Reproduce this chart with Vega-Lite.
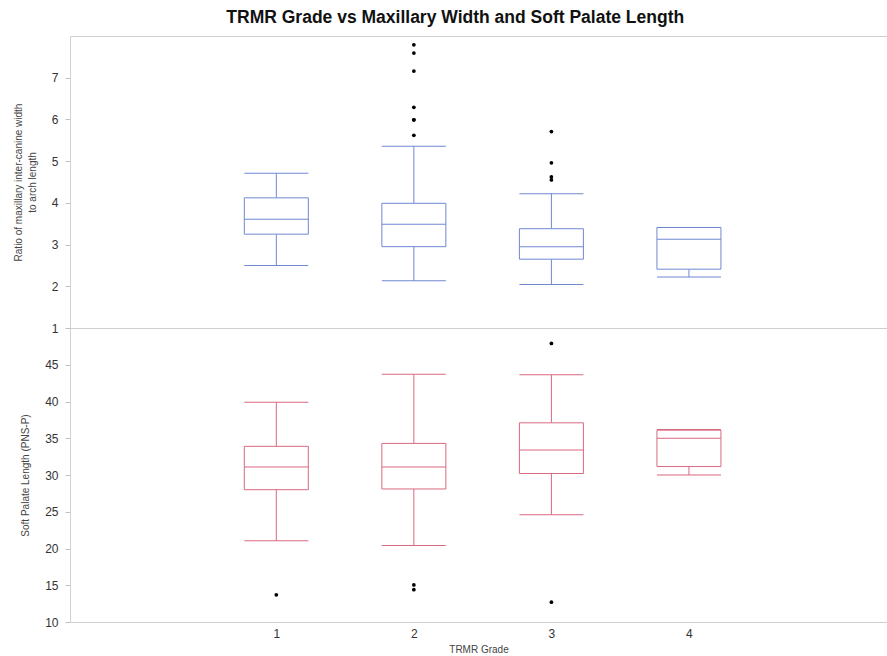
{
  "$schema": "https://vega.github.io/schema/vega-lite/v6.json",
  "padding": {"left": 13, "top": 9, "right": 0, "bottom": 0},
  "title": {"text": "TRMR Grade vs Maxillary Width and Soft Palate Length", "fontSize": 17.5, "font": "Liberation Sans", "fontWeight": "bold", "anchor": "start", "dx": 213, "offset": 9.5, "color": "#111"},
  "spacing": 0,
  "bounds": "flush",
  "config": {
    "view": {"stroke": null},
    "axis": {"domainColor": "#d0d0d0", "tickColor": "#c0c0c0", "labelColor": "#333", "labelFont": "Liberation Sans", "titleFont": "Liberation Sans", "titleFontWeight": "normal", "titleColor": "#444", "grid": false, "labelFontSize": 12, "titleFontSize": 10}
  },
  "datasets": {
    "ratioStats": [
      {"grade": 1, "lower": 2.50, "q1": 3.25, "median": 3.61, "q3": 4.12, "upper": 4.71},
      {"grade": 2, "lower": 2.13, "q1": 2.95, "median": 3.49, "q3": 3.99, "upper": 5.36},
      {"grade": 3, "lower": 2.04, "q1": 2.65, "median": 2.95, "q3": 3.38, "upper": 4.22},
      {"grade": 4, "lower": 2.22, "q1": 2.41, "median": 3.13, "q3": 3.41, "upper": 3.41}
    ],
    "ratioOut": [
      {"grade": 2, "value": 7.79}, {"grade": 2, "value": 7.59}, {"grade": 2, "value": 7.16},
      {"grade": 2, "value": 6.29}, {"grade": 2, "value": 5.99}, {"grade": 2, "value": 5.99},
      {"grade": 2, "value": 5.62},
      {"grade": 3, "value": 5.71}, {"grade": 3, "value": 4.96}, {"grade": 3, "value": 4.62}, {"grade": 3, "value": 4.55}
    ],
    "softStats": [
      {"grade": 1, "lower": 21.05, "q1": 28.0, "median": 31.1, "q3": 33.9, "upper": 39.9},
      {"grade": 2, "lower": 20.4, "q1": 28.1, "median": 31.1, "q3": 34.3, "upper": 43.7},
      {"grade": 3, "lower": 24.6, "q1": 30.2, "median": 33.4, "q3": 37.1, "upper": 43.65},
      {"grade": 4, "lower": 30.0, "q1": 31.15, "median": 35.0, "q3": 36.1, "upper": 36.2}
    ],
    "softOut": [
      {"grade": 1, "value": 13.7},
      {"grade": 2, "value": 14.4}, {"grade": 2, "value": 15.05},
      {"grade": 3, "value": 47.9}, {"grade": 3, "value": 12.7}
    ]
  },
  "vconcat": [
    {
      "width": 817,
      "height": 292,
      "resolve": {"axis": {"x": "independent"}},
      "layer": [
        {
          "data": {"name": "ratioStats"},
          "mark": {"type": "rule", "color": "#7088d2", "strokeWidth": 1},
          "encoding": {
            "x": {"field": "grade", "type": "quantitative", "scale": {"domain": [-0.5, 5.44], "nice": false, "zero": false, "padding": 0}, "axis": {"orient": "top", "domain": true, "ticks": false, "labels": false, "title": null, "minExtent": 0, "maxExtent": 0, "offset": 0}},
            "y": {"field": "lower", "type": "quantitative", "scale": {"domain": [1, 8], "nice": false, "zero": false}, "axis": {"values": [1, 2, 3, 4, 5, 6, 7], "tickSize": 5, "labelPadding": 7, "titlePadding": 14, "title": ["Ratio of maxillary inter-canine width", "to arch length"], "titleLineHeight": 14}},
            "y2": {"field": "q1"}
          }
        },
        {
          "data": {"name": "ratioStats"},
          "mark": {"type": "rule", "color": "#7088d2", "strokeWidth": 1},
          "encoding": {
            "x": {"field": "grade", "type": "quantitative", "axis": {"orient": "bottom", "domain": true, "ticks": false, "labels": false, "title": null, "minExtent": 0, "maxExtent": 0, "offset": 0}},
            "y": {"field": "q3", "type": "quantitative", "title": ["Ratio of maxillary inter-canine width", "to arch length"]},
            "y2": {"field": "upper"}
          }
        },
        {
          "data": {"name": "ratioStats"},
          "mark": {"type": "bar", "size": 64, "fill": "white", "stroke": "#7088d2", "strokeWidth": 1},
          "encoding": {
            "x": {"field": "grade", "type": "quantitative", "axis": null},
            "y": {"field": "q1", "type": "quantitative", "title": ["Ratio of maxillary inter-canine width", "to arch length"]},
            "y2": {"field": "q3"}
          }
        },
        {
          "data": {"name": "ratioStats"},
          "mark": {"type": "tick", "orient": "horizontal", "size": 64, "thickness": 1, "color": "#7088d2", "opacity": 1},
          "encoding": {
            "x": {"field": "grade", "type": "quantitative", "axis": null},
            "y": {"field": "median", "type": "quantitative", "title": ["Ratio of maxillary inter-canine width", "to arch length"]}
          }
        },
        {
          "data": {"name": "ratioStats"},
          "mark": {"type": "tick", "orient": "horizontal", "size": 64, "thickness": 1, "color": "#7088d2", "opacity": 1},
          "encoding": {
            "x": {"field": "grade", "type": "quantitative", "axis": null},
            "y": {"field": "lower", "type": "quantitative", "title": ["Ratio of maxillary inter-canine width", "to arch length"]}
          }
        },
        {
          "data": {"name": "ratioStats"},
          "mark": {"type": "tick", "orient": "horizontal", "size": 64, "thickness": 1, "color": "#7088d2", "opacity": 1},
          "encoding": {
            "x": {"field": "grade", "type": "quantitative", "axis": null},
            "y": {"field": "upper", "type": "quantitative", "title": ["Ratio of maxillary inter-canine width", "to arch length"]}
          }
        },
        {
          "data": {"name": "ratioOut"},
          "mark": {"type": "circle", "size": 14, "color": "#000", "opacity": 1},
          "encoding": {
            "x": {"field": "grade", "type": "quantitative", "axis": null},
            "y": {"field": "value", "type": "quantitative", "title": ["Ratio of maxillary inter-canine width", "to arch length"]}
          }
        }
      ]
    },
    {
      "width": 817,
      "height": 294,
      "layer": [
        {
          "data": {"name": "softStats"},
          "mark": {"type": "rule", "color": "#d9697f", "strokeWidth": 1},
          "encoding": {
            "x": {"field": "grade", "type": "quantitative", "scale": {"domain": [-0.5, 5.44], "nice": false, "zero": false, "padding": 0}, "axis": {"values": [1, 2, 3, 4], "format": "d", "ticks": false, "labelPadding": 6, "title": "TRMR Grade", "titleFontSize": 10, "titlePadding": 5}},
            "y": {"field": "lower", "type": "quantitative", "scale": {"domain": [10, 50], "nice": false, "zero": false}, "axis": {"values": [10, 15, 20, 25, 30, 35, 40, 45], "tickSize": 5, "labelPadding": 7, "titlePadding": 14, "title": "Soft Palate Length (PNS-P)"}},
            "y2": {"field": "q1"}
          }
        },
        {
          "data": {"name": "softStats"},
          "mark": {"type": "rule", "color": "#d9697f", "strokeWidth": 1},
          "encoding": {
            "x": {"field": "grade", "type": "quantitative", "title": "TRMR Grade"},
            "y": {"field": "q3", "type": "quantitative", "title": "Soft Palate Length (PNS-P)"},
            "y2": {"field": "upper"}
          }
        },
        {
          "data": {"name": "softStats"},
          "mark": {"type": "bar", "size": 64, "fill": "white", "stroke": "#d9697f", "strokeWidth": 1},
          "encoding": {
            "x": {"field": "grade", "type": "quantitative", "title": "TRMR Grade"},
            "y": {"field": "q1", "type": "quantitative", "title": "Soft Palate Length (PNS-P)"},
            "y2": {"field": "q3"}
          }
        },
        {
          "data": {"name": "softStats"},
          "mark": {"type": "tick", "orient": "horizontal", "size": 64, "thickness": 1, "color": "#d9697f", "opacity": 1},
          "encoding": {
            "x": {"field": "grade", "type": "quantitative", "title": "TRMR Grade"},
            "y": {"field": "median", "type": "quantitative", "title": "Soft Palate Length (PNS-P)"}
          }
        },
        {
          "data": {"name": "softStats"},
          "mark": {"type": "tick", "orient": "horizontal", "size": 64, "thickness": 1, "color": "#d9697f", "opacity": 1},
          "encoding": {
            "x": {"field": "grade", "type": "quantitative", "title": "TRMR Grade"},
            "y": {"field": "lower", "type": "quantitative", "title": "Soft Palate Length (PNS-P)"}
          }
        },
        {
          "data": {"name": "softStats"},
          "mark": {"type": "tick", "orient": "horizontal", "size": 64, "thickness": 1, "color": "#d9697f", "opacity": 1},
          "encoding": {
            "x": {"field": "grade", "type": "quantitative", "title": "TRMR Grade"},
            "y": {"field": "upper", "type": "quantitative", "title": "Soft Palate Length (PNS-P)"}
          }
        },
        {
          "data": {"name": "softOut"},
          "mark": {"type": "circle", "size": 14, "color": "#000", "opacity": 1},
          "encoding": {
            "x": {"field": "grade", "type": "quantitative", "title": "TRMR Grade"},
            "y": {"field": "value", "type": "quantitative", "title": "Soft Palate Length (PNS-P)"}
          }
        }
      ]
    }
  ]
}
